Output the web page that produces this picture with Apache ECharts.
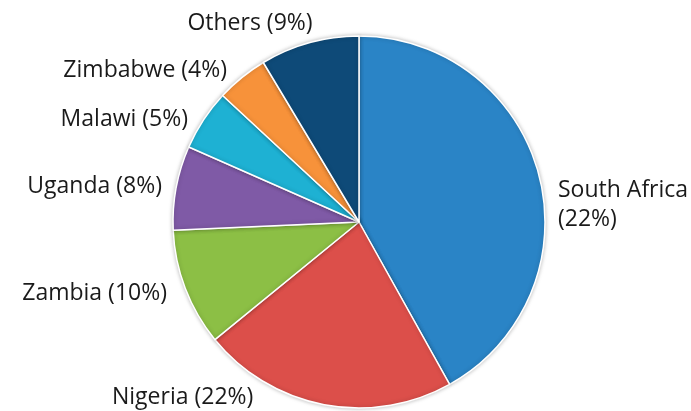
<!DOCTYPE html>
<html>
<head>
<meta charset="utf-8">
<script src="https://cdn.jsdelivr.net/npm/echarts@6/dist/echarts.min.js"></script>
<style>
  html, body { margin: 0; padding: 0; background: #fff; }
  #chart { width: 691px; height: 411px; }
</style>
</head>
<body>
<div id="chart"></div>
<script>
var countries = ['South Africa', 'Nigeria', 'Zambia', 'Uganda', 'Malawi', 'Zimbabwe', 'Others'];
var shares = [41.9, 22.2, 10.2, 7.3, 5.3, 4.5, 8.6];
var shownPct = [22, 22, 10, 8, 5, 4, 9];
var colors = ['#2a84c6', '#dc4f4a', '#8cbf45', '#7f5aa6', '#1eb1d3', '#f7923a', '#0e4a78'];

// where each label sits (anchor x, y, alignment)
var labelPos = [
    [558, 205, 'left'],
    [112, 397, 'left'],
    [167, 293, 'right'],
    [162, 186, 'right'],
    [188, 119, 'right'],
    [227, 70, 'right'],
    [250, 23, 'center']
];

var myChart = echarts.init(document.getElementById('chart'));

var pieData = countries.map(function (c, i) {
    var txt = c + ' (' + shownPct[i] + '%)';
    if (i === 0) txt = c + '\n(' + shownPct[i] + '%)';
    return {
        name: c,
        value: shares[i],
        itemStyle: { color: colors[i] },
        label: { formatter: txt }
    };
});

myChart.setOption({
    animation: false,
    series: [
        {
            type: 'pie',
            center: [359, 222],
            radius: 186,
            startAngle: 90,
            clockwise: true,
            data: pieData,
            itemStyle: {
                borderColor: '#ffffff',
                borderWidth: 1.5,
                shadowBlur: 4,
                shadowColor: 'rgba(0,0,0,0.25)'
            },
            label: {
                show: true,
                position: 'outside',
                alignTo: 'none',
                overflow: 'none',
                fontFamily: 'Open Sans',
                fontSize: 23,
                color: '#1a1a1a',
                lineHeight: 29
            },
            labelLine: { show: false },
            labelLayout: function (params) {
                var p = labelPos[params.dataIndex];
                return { x: p[0], y: p[1], align: p[2], verticalAlign: 'middle' };
            }
        }
    ]
});
</script>
</body>
</html>
